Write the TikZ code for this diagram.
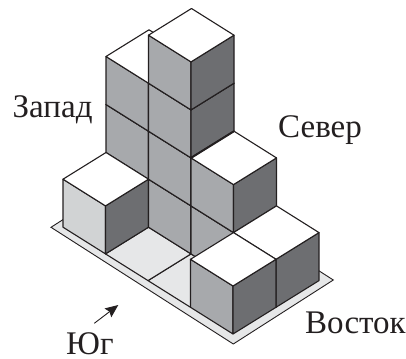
\documentclass[tikz,border=0pt]{standalone}
\usepackage{fontspec}
\setmainfont{Liberation Serif}
\usetikzlibrary{arrows.meta}
\definecolor{ink}{HTML}{231F20}
\definecolor{sideface}{HTML}{A7A9AC}
\definecolor{paleface}{HTML}{D1D3D4}
\definecolor{darkface}{HTML}{6D6E71}
\definecolor{plate}{HTML}{E6E7E8}
\tikzset{
  edge/.style={draw=ink, line width=1.1pt, line join=round},
  side/.style={font=\fontsize{33}{33}\selectfont, text=ink, inner sep=0pt, anchor=base west},
}
% one cube of the stack: cell u, cell v, level, colour of the left face
\newcommand{\cube}[4]{
  \draw[edge, fill=#4] (#1,#2,#3) -- (#1+1,#2,#3) -- (#1+1,#2,#3+1) -- (#1,#2,#3+1) -- cycle;
  \draw[edge, fill=darkface] (#1,#2,#3) -- (#1,#2+1,#3) -- (#1,#2+1,#3+1) -- (#1,#2,#3+1) -- cycle;
  \draw[edge, fill=white] (#1,#2,#3+1) -- (#1+1,#2,#3+1) -- (#1+1,#2+1,#3+1) -- (#1,#2+1,#3+1) -- cycle;
}

\begin{document}
\begin{tikzpicture}
\useasboundingbox (0,0) rectangle (406pt,358pt);
% plate under the cubes
\draw[line width=0.9pt, draw=ink, fill=plate] (51pt,130.7pt) -- (233.3pt,14pt) -- (333.3pt,78pt) -- (151pt,194.7pt) -- cycle;
\begin{scope}[shift={(233pt,24pt)}, x={(-42.5pt,26.7pt)}, y={(43pt,26.7pt)}, z={(0pt,48pt)}]
% floor cells
\draw[edge, fill=plate] (1,0,0) -- (2,0,0) -- (2,1,0) -- (1,1,0) -- cycle;
\draw[edge, fill=plate] (2,0,0) -- (3,0,0) -- (3,1,0) -- (2,1,0) -- cycle;
% back to front
\foreach \u/\v/\k in {3/1/0, 3/1/1, 3/1/2}
  \cube{\u}{\v}{\k}{sideface};
\cube{3}{0}{0}{paleface}
\foreach \u/\v/\k in {2/1/0, 2/1/1, 2/1/2, 2/1/3, 1/1/0, 1/1/1, 0/1/0, 0/0/0}
  \cube{\u}{\v}{\k}{sideface};
\draw[draw=ink, line width=2pt] (2,1,2) -- (2,2,2);
\end{scope}
\node[side] (zapad) at (12.5pt,240.7pt) {Запад};
\node[side] (sever) at (278pt,220.7pt) {Север};
\node[side] (vostok) at (305pt,24pt) {Восток};
\node[side] (yug) at (66pt,4pt) {Юг};
\coordinate (yugtail) at (94.3pt,34.7pt);
\coordinate (yugtip) at (118.3pt,53pt);
\draw[-{Stealth[length=13pt,width=11pt,inset=2pt]}, draw=ink, line width=0.9pt] (yugtail) -- (yugtip);
\end{tikzpicture}
\end{document}
